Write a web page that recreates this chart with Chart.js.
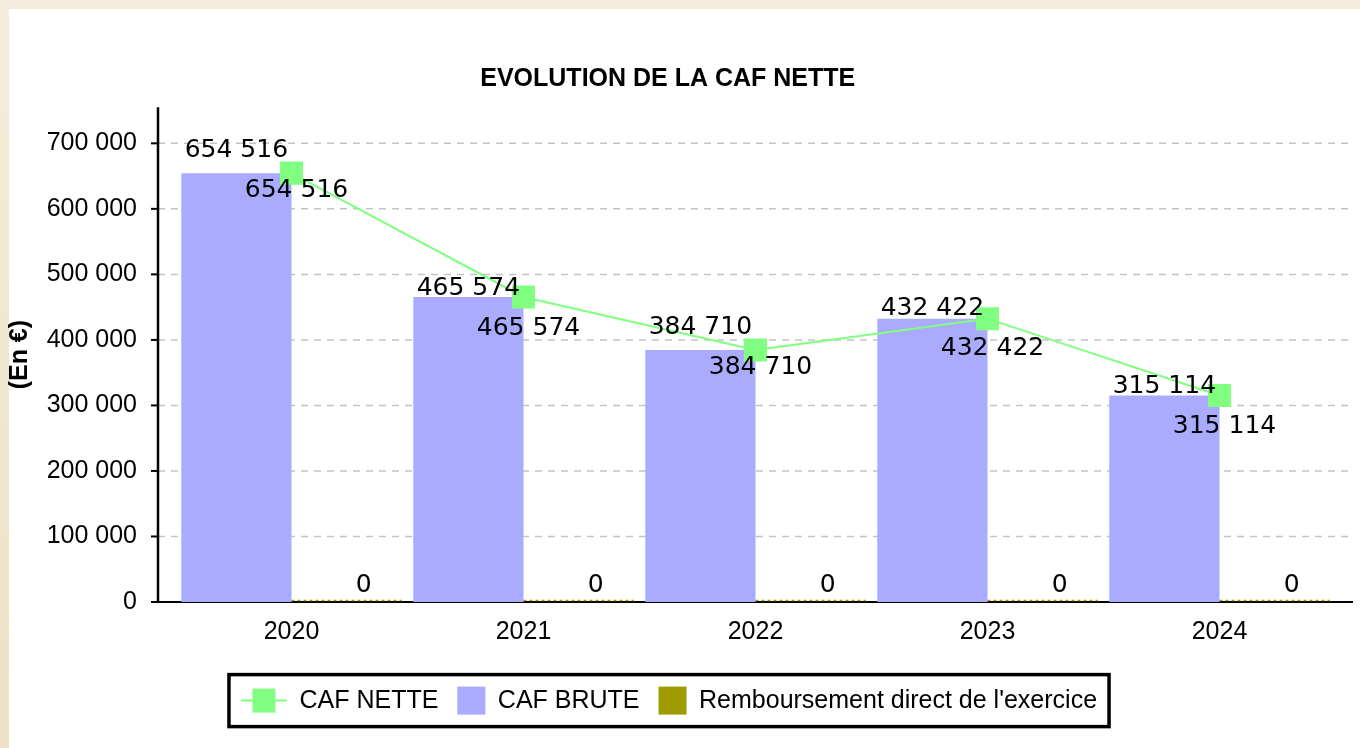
<!DOCTYPE html>
<html lang="fr">
<head>
<meta charset="utf-8">
<title>Evolution de la CAF nette</title>
<script src="https://cdn.jsdelivr.net/npm/chart.js@4.4.1/dist/chart.umd.min.js"></script>
<style>
  html, body { margin: 0; padding: 0; background: #f4ebd7; overflow: hidden; }
  #chart { display: block; }
</style>
</head>
<body>
<canvas id="chart" width="1360" height="748"></canvas>
<script>
"use strict";

/* ── data ─────────────────────────────────────────────────────────────── */

var years         = ["2020", "2021", "2022", "2023", "2024"];
var cafNette      = [654516, 465574, 384710, 432422, 315114];
var cafBrute      = [654516, 465574, 384710, 432422, 315114];
var remboursement = [0, 0, 0, 0, 0];
var yTickValues   = [0, 100000, 200000, 300000, 400000, 500000, 600000, 700000];

/* ── look ─────────────────────────────────────────────────────────────── */

var GREEN  = "#80ff80";
var BLUE   = "#aaaaff";
var OLIVE  = "#9f9b00";
var AXIS_GAP = 17.5;          // y axis sits a little left of the first category
var LABEL_FONT = '25px "DejaVu Sans", sans-serif';
var SANS = '"Liberation Sans", Arial, Helvetica, sans-serif';

// The source nudges some bar labels up so they clear the line labels.
var barLabelLift = [16.5, 2, 16, 4, 2.4];
var PAIR_GAP = 40;            // line label baseline sits this far below the bar label

Chart.defaults.font.family = SANS;
Chart.defaults.color = "#000";

function fmt(v) {
    return String(v).replace(/\B(?=(\d{3})+(?!\d))/g, " ");
}

/* ── plugins ──────────────────────────────────────────────────────────── */

// Beige frame with the white panel inside.
var frame = {
    id: "frame",
    beforeDraw: function(chart) {
        var ctx = chart.ctx;
        var g = ctx.createLinearGradient(0, 0, 0, chart.height);
        g.addColorStop(0, "#f5eddb");
        g.addColorStop(1, "#ece1c4");
        ctx.save();
        ctx.fillStyle = g;
        ctx.fillRect(0, 0, chart.width, chart.height);
        ctx.fillStyle = "#ffffff";
        ctx.fillRect(9, 9, chart.width - 9, chart.height - 9);
        ctx.restore();
    }
};

// Dashed grid, axis lines and tick marks, drawn from the y scale.
var axes = {
    id: "axes",
    beforeDatasetsDraw: function(chart) {
        var ctx = chart.ctx, a = chart.chartArea, ys = chart.scales.y;
        var x0 = a.left - AXIS_GAP, x1 = a.right + AXIS_GAP;
        var by = ys.getPixelForValue(0);
        ctx.save();
        ctx.strokeStyle = "#c4c4c4";
        ctx.lineWidth = 1.5;
        ctx.setLineDash([7, 6]);
        ys.ticks.forEach(function(t) {
            if (t.value === 0) return;
            var py = ys.getPixelForValue(t.value);
            ctx.beginPath();
            ctx.moveTo(x0, py);
            ctx.lineTo(x1, py);
            ctx.stroke();
        });
        ctx.setLineDash([]);
        ctx.strokeStyle = "#000";
        ctx.lineWidth = 2;
        ctx.beginPath();
        ctx.moveTo(x0 - 7, by);
        ctx.lineTo(x1, by);
        ctx.stroke();
        ys.ticks.forEach(function(t) {
            var py = ys.getPixelForValue(t.value);
            ctx.beginPath();
            ctx.moveTo(x0 - 7, py);
            ctx.lineTo(x0, py);
            ctx.stroke();
        });
        ctx.lineWidth = 2.5;
        ctx.beginPath();
        ctx.moveTo(x0, a.top);
        ctx.lineTo(x0, by + 1);
        ctx.stroke();
        ctx.restore();
    }
};

// Value labels: one above each bar, one below-right of each line point.
var valueLabels = {
    id: "valueLabels",
    afterDatasetsDraw: function(chart) {
        var ctx = chart.ctx;
        var lineMeta  = chart.getDatasetMeta(0);
        var bruteMeta = chart.getDatasetMeta(1);
        var rembMeta  = chart.getDatasetMeta(2);
        ctx.save();

        // zero-height bars leave a dotted olive trace on the axis
        ctx.strokeStyle = OLIVE;
        ctx.lineWidth = 1.5;
        ctx.setLineDash([3, 3]);
        rembMeta.data.forEach(function(bar) {
            ctx.beginPath();
            ctx.moveTo(bar.x - bar.width / 2, bar.y - 1.5);
            ctx.lineTo(bar.x + bar.width / 2, bar.y - 1.5);
            ctx.stroke();
        });
        ctx.setLineDash([]);

        ctx.font = LABEL_FONT;
        ctx.fillStyle = "#000";
        ctx.textAlign = "center";
        ctx.textBaseline = "alphabetic";
        bruteMeta.data.forEach(function(bar, i) {
            var base = bar.y - barLabelLift[i];
            ctx.fillText(fmt(cafBrute[i]), bar.x, base);
            var pt = lineMeta.data[i];
            ctx.fillText(fmt(cafNette[i]), pt.x + 5, base + PAIR_GAP);
        });
        rembMeta.data.forEach(function(bar, i) {
            ctx.fillText(fmt(remboursement[i]), bar.x + 17, bar.y - 10);
        });
        ctx.restore();
    }
};

// Boxed legend under the chart (line+square swatch for the line series).
var boxedLegend = {
    id: "boxedLegend",
    afterDraw: function(chart) {
        var ctx = chart.ctx;
        var cx = 669, cy = 700.6, h = 52, pad = 12;
        var gapText = 12.5, gapItem = 19;
        ctx.save();
        ctx.font = "25px " + SANS;
        var items = chart.data.datasets.map(function(ds) {
            var isLine = ds.type === "line";
            return {
                text: ds.label,
                color: ds.backgroundColor,
                line: isLine,
                sw: isLine ? 46 : 28,
                tw: ctx.measureText(ds.label).width
            };
        });
        var total = pad * 2;
        items.forEach(function(it, i) {
            total += it.sw + gapText + it.tw + (i < items.length - 1 ? gapItem : 0);
        });
        var left = cx - total / 2;
        ctx.fillStyle = "#fff";
        ctx.fillRect(left, cy - h / 2, total, h);
        ctx.strokeStyle = "#000";
        ctx.lineWidth = 3.5;
        ctx.strokeRect(left, cy - h / 2, total, h);

        var x = left + pad;
        ctx.textAlign = "left";
        ctx.textBaseline = "middle";
        items.forEach(function(it) {
            if (it.line) {
                ctx.strokeStyle = it.color;
                ctx.lineWidth = 2;
                ctx.beginPath();
                ctx.moveTo(x, cy);
                ctx.lineTo(x + it.sw, cy);
                ctx.stroke();
                ctx.fillStyle = it.color;
                ctx.fillRect(x + it.sw / 2 - 11.5, cy - 12, 23, 24);
            } else {
                ctx.fillStyle = it.color;
                ctx.fillRect(x, cy - 14, it.sw, 28);
            }
            x += it.sw + gapText;
            ctx.fillStyle = "#000";
            ctx.fillText(it.text, x, cy + 1);
            x += it.tw + gapItem;
        });
        ctx.restore();
    }
};

/* ── chart ────────────────────────────────────────────────────────────── */

new Chart(document.getElementById("chart"), {
    data: {
        labels: years,
        datasets: [{
            type: "line",
            label: "CAF NETTE",
            data: cafNette,
            borderColor: GREEN,
            backgroundColor: GREEN,
            borderWidth: 2,
            tension: 0,
            pointStyle: "rect",
            pointRadius: 16.3,
            pointHoverRadius: 16.3,
            pointBorderWidth: 0,
            pointBackgroundColor: GREEN,
            order: 0
        }, {
            type: "bar",
            label: "CAF BRUTE",
            data: cafBrute,
            backgroundColor: BLUE,
            barPercentage: 1,
            categoryPercentage: 0.95,
            order: 1
        }, {
            type: "bar",
            label: "Remboursement direct de l'exercice",
            data: remboursement,
            backgroundColor: OLIVE,
            barPercentage: 1,
            categoryPercentage: 0.95,
            order: 2
        }]
    },
    options: {
        responsive: false,
        animation: false,
        events: [],
        layout: { padding: { left: 0, right: 24.5, top: 0, bottom: 100 } },
        scales: {
            x: {
                afterFit: function(s) { s.height = 46; },
                grid: { display: false, drawTicks: false },
                border: { display: false },
                ticks: { padding: 15, font: { size: 25 }, color: "#000" }
            },
            y: {
                min: 0,
                max: 755000,
                afterBuildTicks: function(s) {
                    s.ticks = yTickValues.map(function(v) { return { value: v }; });
                },
                afterFit: function(s) { s.width = 175.5; },
                grid: { display: false, drawTicks: false },
                border: { display: false },
                ticks: {
                    padding: 38.5,
                    font: { size: 25 },
                    color: "#000",
                    callback: function(v) { return fmt(v); }
                },
                title: {
                    display: true,
                    text: "(En €)",
                    font: { size: 25, weight: "bold" },
                    color: "#000",
                    padding: { top: 5, bottom: 0 }
                }
            }
        },
        plugins: {
            title: {
                display: true,
                text: "EVOLUTION DE LA CAF NETTE",
                font: { size: 25, weight: "bold" },
                color: "#000",
                padding: { top: 64, bottom: 13.3 }
            },
            legend: { display: false },
            tooltip: { enabled: false }
        }
    },
    plugins: [frame, axes, valueLabels, boxedLegend]
});
</script>
</body>
</html>
